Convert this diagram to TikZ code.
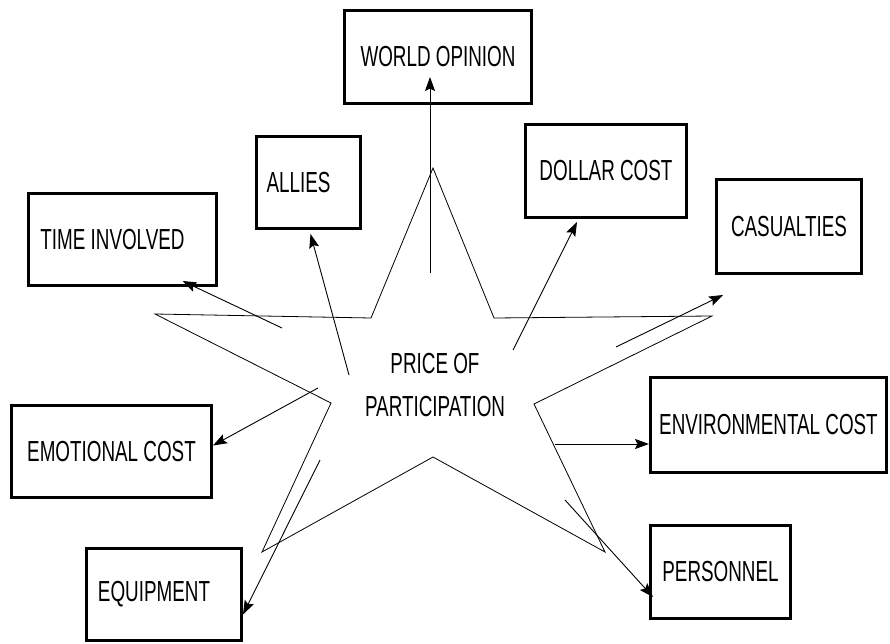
\documentclass[tikz,border=0pt]{standalone}
\usepackage{fontspec}
\setmainfont{Liberation Sans}[FakeStretch=0.65]
\usetikzlibrary{arrows.meta}

\tikzset{
  costbox/.style 2 args={draw, line width=3pt, minimum width=#1, minimum height=#2, inner sep=0pt},
  pull/.style={line width=0.9pt, -{Stealth[length=14pt, width=10pt, inset=2.5pt]}},
}

\begin{document}
\begin{tikzpicture}[x=1pt, y=-1pt, font=\fontsize{29}{43}\selectfont]
    \useasboundingbox (0,0) rectangle (890,644);

    % the star
    \draw[line width=0.8pt] (433,168) -- (371,318) -- (155,314) -- (331,403) -- (262,552)
        -- (433,457) -- (605,552) -- (534,404) -- (712,316) -- (494,318) -- cycle;
    \node[align=center] (price) at (435,385) {PRICE OF\\PARTICIPATION};

    % the costs
    \node[costbox={187pt}{93pt}] (world)  at (438,57)    {WORLD OPINION};
    \node[costbox={104pt}{92pt}] (allies) at (308.5,182.5) {ALLIES\hspace*{20pt}};
    \node[costbox={188pt}{92pt}] (time)   at (122.5,239.5) {TIME INVOLVED\hspace*{20pt}};
    \node[costbox={161pt}{93pt}] (dollar) at (606,171)   {DOLLAR COST};
    \node[costbox={145pt}{94pt}] (casual) at (789,226.5) {CASUALTIES};
    \node[costbox={200pt}{92pt}] (emot)   at (111.5,451.5) {EMOTIONAL COST};
    \node[costbox={155pt}{92pt}] (equip)  at (164,594.5) {EQUIPMENT\hspace*{20pt}};
    \node[costbox={236pt}{95pt}] (env)    at (768.5,425) {ENVIRONMENTAL COST};
    \node[costbox={140pt}{93pt}] (pers)   at (720.5,572) {PERSONNEL};

    % where the arrows leave the star
    \coordinate (sworld)  at (430,273);
    \coordinate (sallies) at (349,375);
    \coordinate (stime)   at (282,328);
    \coordinate (sdollar) at (513,350);
    \coordinate (scasual) at (616,347);
    \coordinate (semot)   at (318,388);
    \coordinate (sequip)  at (320,460);
    \coordinate (senv)    at (555,444);
    \coordinate (spers)   at (565,500);

    \draw[pull] (sworld)  -- ([xshift=-8pt, yshift=28pt]world.south);
    \draw[pull] (sallies) -- ([xshift=2pt, yshift=-4pt]allies.south);
    \draw[pull] (stime)   -- ([xshift=60pt, yshift=6pt]time.south);
    \draw[pull] (sdollar) -- ([xshift=-29pt, yshift=-3pt]dollar.south);
    \draw[pull] (scasual) -- ([xshift=-66pt, yshift=-20pt]casual.south);
    \draw[pull] (semot)   -- ([yshift=6pt]emot.east);
    \draw[pull] (sequip)  -- ([yshift=-20pt]equip.east);
    \draw[pull] (senv)    -- ([yshift=-19pt]env.west);
    \draw[pull] (spers)   -- ([xshift=4pt, yshift=-25pt]pers.west);

\end{tikzpicture}
\end{document}
